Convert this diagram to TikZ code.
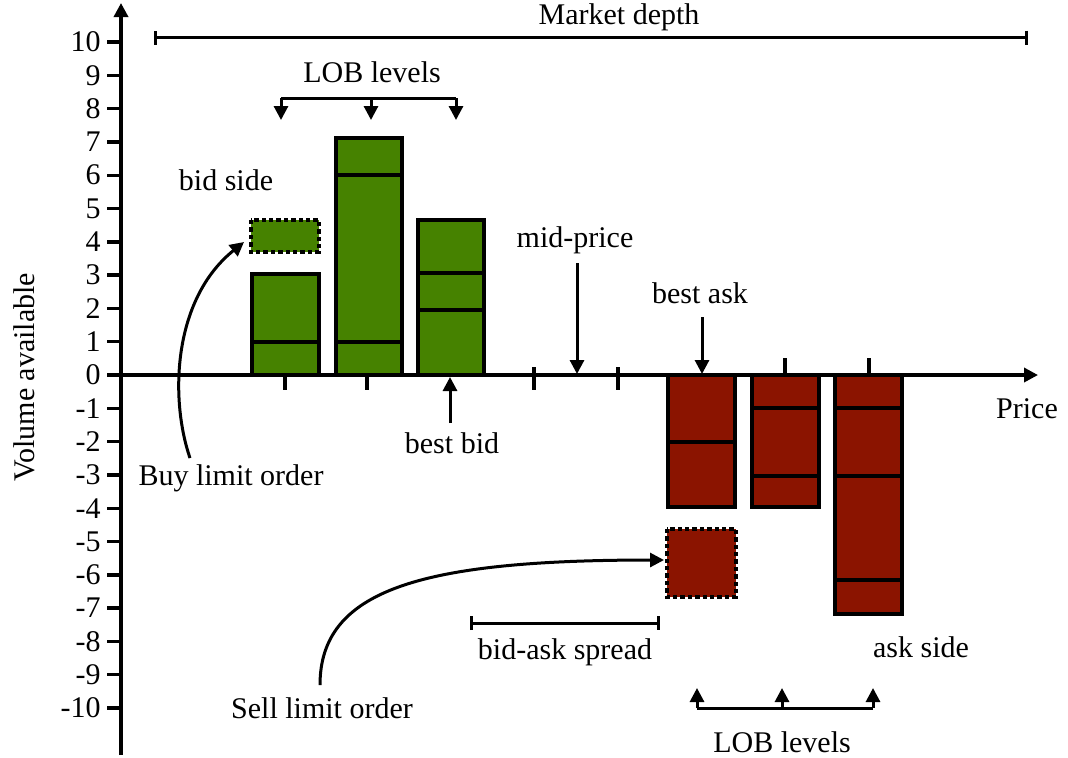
\documentclass[tikz,border=0pt]{standalone}
\usepackage{fontspec}
\setmainfont{Liberation Serif}
\usetikzlibrary{arrows.meta}
\definecolor{bidgreen}{RGB}{70,130,0}
\definecolor{askred}{RGB}{139,20,0}
\begin{document}
\begin{tikzpicture}[x=0.5pt,y=-0.5pt,
  font=\fontsize{15}{18}\selectfont,
  axisline/.style={line width=1.7pt},
  axistip/.style={-{Triangle[length=7pt,width=7pt]}},
  conn/.style={line width=1.5pt,-{Triangle[length=7pt,width=7pt]}},
  rangebar/.style={line width=1.5pt,{Bar[width=7pt]}-{Bar[width=7pt]}},
  bracket/.style={line width=1.5pt},
  bidbar/.style={fill=bidgreen,draw=black,line width=1.7pt},
  askbar/.style={fill=askred,draw=black,line width=1.7pt},
  split/.style={line width=1.6pt},
  orderbox/.style={draw=black,line width=1.7pt,dash pattern=on 2.2pt off 1.5pt},
  lbl/.style={inner sep=0pt}]
\useasboundingbox (0,0) rectangle (1068,757);

% ---- bid side (green) ----
\filldraw[bidbar] (252,375) rectangle (319,274);
\draw[split] (252,342) -- (319,342);
\filldraw[bidbar] (336,375) rectangle (402,138);
\draw[split] (336,342) -- (402,342);
\draw[split] (336,175) -- (402,175);
\filldraw[bidbar] (418,375) rectangle (484,220);
\draw[split] (418,273) -- (484,273);
\draw[split] (418,310) -- (484,310);
\fill[bidgreen] (251,220) rectangle (319,252);
\draw[orderbox] (251,220) rectangle (319,252);

% ---- ask side (red) ----
\filldraw[askbar] (668,375) rectangle (735,507);
\draw[split] (668,442) -- (735,442);
\filldraw[askbar] (752,375) rectangle (819,507);
\draw[split] (752,408) -- (819,408);
\draw[split] (752,476) -- (819,476);
\filldraw[askbar] (835,375) rectangle (902,614);
\draw[split] (835,408) -- (902,408);
\draw[split] (835,476) -- (902,476);
\draw[split] (835,580) -- (902,580);
\fill[askred] (667,529) rectangle (736,597);
\draw[orderbox] (667,529) rectangle (736,597);

% ---- axes ----
\coordinate (ybot) at (121,755);
\coordinate (ytop) at (121,3);
\coordinate (xleft) at (107,375);
\coordinate (xright) at (1038,375);
\draw[axisline,axistip] (ybot) -- (ytop);
\draw[axisline,axistip] (xleft) -- (xright);
\foreach \v in {-10,...,10}{
  \draw[axisline] (107,{375-33.3*\v}) -- (121,{375-33.3*\v});
  \node[lbl,anchor=east] (tick\v) at (101,{375-33.3*\v}) {\v};
}
\node[lbl] (xlabel) at (1027,409) {Price};
\node[lbl,rotate=90] (ylabel) at (24,377) {Volume available};

% price ticks
\foreach \x in {285,367}{ \draw[axisline] (\x,375) -- (\x,390); }
\foreach \x in {534,618}{ \draw[axisline] (\x,367) -- (\x,390); }
\foreach \x in {785,869}{ \draw[axisline] (\x,358) -- (\x,375); }

% ---- market depth ----
\coordinate (mdl) at (154,37.5);
\coordinate (mdr) at (1028,37.5);
\draw[rangebar] (mdl) -- (mdr);
\node[lbl] (mdepth) at (619,17) {Market depth};

% ---- LOB levels, bid side ----
\node[lbl] (loba) at (372,72) {LOB levels};
\coordinate (la1) at (281,98);
\coordinate (la2) at (371,98);
\coordinate (la3) at (456,98);
\coordinate (ta1) at (281,120);
\coordinate (ta2) at (371,120);
\coordinate (ta3) at (456,120);
\draw[bracket] (la1) -- (la3);
\draw[conn] (la1) -- (ta1);
\draw[conn] (la2) -- (ta2);
\draw[conn] (la3) -- (ta3);

% ---- LOB levels, ask side ----
\node[lbl] (lobb) at (782,742) {LOB levels};
\coordinate (lb1) at (697,708);
\coordinate (lb2) at (782,708);
\coordinate (lb3) at (873,708);
\coordinate (tb1) at (697,688);
\coordinate (tb2) at (782,688);
\coordinate (tb3) at (873,688);
\draw[bracket] (lb1) -- (lb3);
\draw[conn] (lb1) -- (tb1);
\draw[conn] (lb2) -- (tb2);
\draw[conn] (lb3) -- (tb3);

% ---- side labels ----
\node[lbl] (bidside) at (226,180) {bid side};
\node[lbl] (askside) at (921,647) {ask side};

% ---- prices ----
\node[lbl] (midp) at (575,240) {mid-price};
\coordinate (mids) at (577,263);
\coordinate (midt) at (577,374);
\draw[conn] (mids) -- (midt);

\node[lbl] (bask) at (700,293) {best ask};
\coordinate (basks) at (702,317);
\coordinate (baskt) at (702,374);
\draw[conn] (basks) -- (baskt);

\node[lbl] (bbid) at (452,443) {best bid};
\coordinate (bbids) at (450,423);
\coordinate (bbidt) at (450,377);
\draw[conn] (bbids) -- (bbidt);

% ---- spread ----
\coordinate (spl) at (470,623);
\coordinate (spr) at (660,623);
\draw[rangebar] (spl) -- (spr);
\node[lbl] (spread) at (565,652) {bid-ask spread};

% ---- limit orders ----
\node[lbl] (buy) at (231,478) {Buy limit order};
\coordinate (buys) at (190,458);
\coordinate (buyt) at (244,242);
\draw[conn] (buys) .. controls (170,400) and (172,300) .. (buyt);

\node[lbl] (sell) at (322,708) {Sell limit order};
\coordinate (sells) at (320,685);
\coordinate (sellt) at (664,560);
\draw[conn] (sells) .. controls (320,590) and (420,560) .. (sellt);
\end{tikzpicture}
\end{document}
